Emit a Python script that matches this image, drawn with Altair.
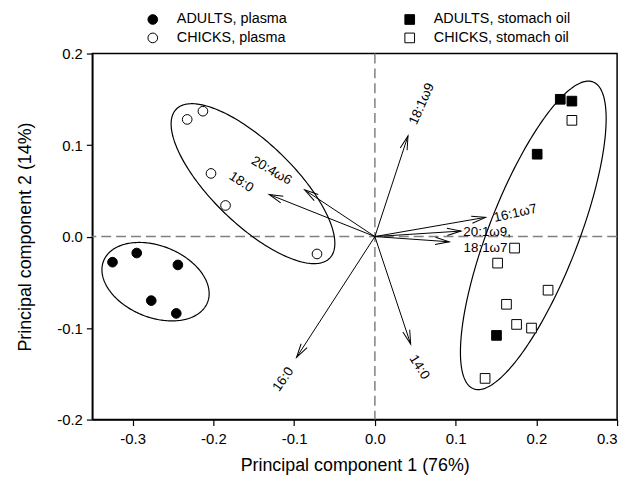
import numpy as np
import pandas as pd
import altair as alt

# ---------------- data ----------------
groups = ["ADULTS, plasma", "CHICKS, plasma", "ADULTS, stomach oil", "CHICKS, stomach oil"]

adult_plasma_pc1 = [-0.325, -0.295, -0.244, -0.277, -0.246]
adult_plasma_pc2 = [-0.028, -0.018, -0.031, -0.070, -0.084]
chick_plasma_pc1 = [-0.2325, -0.213, -0.203, -0.185, -0.0717]
chick_plasma_pc2 = [0.128, 0.137, 0.069, 0.034, -0.019]
adult_oil_pc1 = [0.2296, 0.244, 0.201, 0.1506]
adult_oil_pc2 = [0.150, 0.148, 0.090, -0.108]
chick_oil_pc1 = [0.244, 0.173, 0.152, 0.2145, 0.163, 0.1755, 0.194, 0.1365]
chick_oil_pc2 = [0.127, -0.0126, -0.029, -0.0586, -0.074, -0.096, -0.100, -0.155]

loading_names = ["18:1ω9", "20:4ω6", "18:0", "16:1ω7", "20:1ω9,", "18:1ω7", "16:0", "14:0"]
loading_pc1 = [0.041, -0.087, -0.131, 0.137, 0.1066, 0.092, -0.097, 0.0443]
loading_pc2 = [0.110, 0.051, 0.046, 0.021, 0.006, -0.0057, -0.132, -0.1175]

label_pc1 = [0.058, -0.128, -0.1655, 0.174, 0.139, 0.137, -0.1135, 0.055]
label_pc2 = [0.145, 0.072, 0.0596, 0.0254, 0.0054, -0.0122, -0.156, -0.1427]
label_angle = [294, 30, 33, 347, 0, 0, 305, 58]

# confidence ellipses: centre (data units), semi-axes (px), tilt (deg, screen)
ell_names = ["adult plasma", "chick plasma", "stomach oil"]
ell_cx = [-0.2717, -0.151, 0.1962]
ell_cy = [-0.0493, 0.0578, 0.0013]
ell_a = [56.4, 107.8, 166.0]
ell_b = [36.1, 41.1, 45.0]
ell_tilt = [21.9, 44.1, -68.7]

x_ticks = [-0.3, -0.2, -0.1, 0.0, 0.1, 0.2, 0.3]
y_ticks = [-0.2, -0.1, 0.0, 0.1, 0.2]

# ---------------- layout ----------------
W, H = 529, 369
XDOM = [-0.35, 0.3]
YDOM = [-0.2, 0.2]
PX_X = W / (XDOM[1] - XDOM[0])
PX_Y = H / (YDOM[1] - YDOM[0])
FONT = "Liberation Sans"

pts = pd.DataFrame({
    "pc1": adult_plasma_pc1 + chick_plasma_pc1 + adult_oil_pc1 + chick_oil_pc1,
    "pc2": adult_plasma_pc2 + chick_plasma_pc2 + adult_oil_pc2 + chick_oil_pc2,
    "group": [groups[0]] * len(adult_plasma_pc1) + [groups[1]] * len(chick_plasma_pc1)
    + [groups[2]] * len(adult_oil_pc1) + [groups[3]] * len(chick_oil_pc1),
})

load = pd.DataFrame({"name": loading_names, "x": loading_pc1, "y": loading_pc2})
load["x0"] = 0.0
load["y0"] = 0.0
load["head_angle"] = (np.degrees(np.arctan2(-load["y"] * PX_Y, load["x"] * PX_X)) + 360) % 360

labels = pd.DataFrame({"name": loading_names, "x": label_pc1, "y": label_pc2, "angle": label_angle})

rows = []
t = np.linspace(0, 2 * np.pi, 241)
for n, cx, cy, a, b, th in zip(ell_names, ell_cx, ell_cy, ell_a, ell_b, ell_tilt):
    r = np.radians(th)
    u, v = a * np.cos(t), b * np.sin(t)
    dx = u * np.cos(r) - v * np.sin(r)
    dy = u * np.sin(r) + v * np.cos(r)
    for i in range(len(t)):
        rows.append({"ell": n, "i": i, "x": cx + dx[i] / PX_X, "y": cy - dy[i] / PX_Y})
ell = pd.DataFrame(rows)

zero = pd.DataFrame({"z": [0.0]})

label_expr = "(datum.value < -0.00001 ? '-' : '') + format(abs(datum.value), '.1f')"
x_axis = alt.Axis(values=x_ticks, labelExpr=label_expr, grid=False, tickSize=6,
                  labelFontSize=15, titleFontSize=18, labelPadding=6, titlePadding=10)
y_axis = alt.Axis(values=y_ticks, labelExpr=label_expr, grid=False, tickSize=6,
                  labelFontSize=15, titleFontSize=18, labelPadding=4, titlePadding=22)
xs = alt.Scale(domain=XDOM, nice=False, zero=False)
ys = alt.Scale(domain=YDOM, nice=False, zero=False)
XT = "Principal component 1 (76%)"
YT = "Principal component 2 (14%)"


def X(f):
    return alt.X(f, type="quantitative", scale=xs, axis=x_axis, title=XT)


def Y(f):
    return alt.Y(f, type="quantitative", scale=ys, axis=y_axis, title=YT)


vline = alt.Chart(zero).mark_rule(color="#808080", strokeDash=[10, 5], strokeWidth=1.5).encode(x=X("z"))
hline = alt.Chart(zero).mark_rule(color="#808080", strokeDash=[10, 5], strokeWidth=1.5).encode(y=Y("z"))

ellipses = alt.Chart(ell).mark_line(color="black", strokeWidth=1.2).encode(
    x=X("x"), y=Y("y"), detail="ell:N", order=alt.Order("i:Q"))

shafts = alt.Chart(load).mark_rule(color="black", strokeWidth=1).encode(
    x=X("x0"), y=Y("y0"), x2="x", y2="y")

heads = alt.Chart(load).mark_point(shape="M-1,-0.26L0,0L-1,0.26", size=784, filled=False,
                                   stroke="black", strokeWidth=1, opacity=1).encode(
    x=X("x"), y=Y("y"), angle=alt.Angle("head_angle:Q", scale=None))

texts = alt.Chart(labels).mark_text(font=FONT, fontSize=13.5, color="black", align="center",
                                    baseline="middle").encode(
    x=X("x"), y=Y("y"), text="name:N", angle=alt.Angle("angle:Q", scale=None))

legend = alt.Legend(orient="none", legendX=53.7, legendY=-42, columns=2, columnPadding=116,
                    rowPadding=3, labelFontSize=14.5, labelOffset=17, symbolSize=95,
                    symbolStrokeColor="black", symbolStrokeWidth=1, labelFont=FONT, padding=0)

points = alt.Chart(pts).mark_point(size=95, strokeWidth=1, opacity=1).encode(
    x=X("pc1"), y=Y("pc2"),
    shape=alt.Shape("group:N", scale=alt.Scale(domain=groups, range=["circle", "circle", "square", "square"]),
                    legend=legend, title=None),
    fill=alt.Fill("group:N", scale=alt.Scale(domain=groups, range=["black", "white", "black", "white"]),
                  legend=legend, title=None),
    stroke=alt.Stroke("group:N", scale=alt.Scale(domain=groups, range=["black", "black", "black", "black"]),
                      legend=legend, title=None),
)

chart = alt.layer(vline, hline, ellipses, shafts, heads, texts, points).properties(
    width=W, height=H, autosize=alt.AutoSizeParams(type="none"),
    padding={"left": 85, "top": 44, "right": 12, "bottom": 60},
).configure_view(stroke="black", strokeWidth=1.5).configure_axis(
    labelFont=FONT, titleFont=FONT, titleFontWeight="normal", labelColor="black", titleColor="black",
    domainColor="black", tickColor="black", domainWidth=1.5, tickWidth=1.2,
).configure_text(font=FONT)

chart.save("out.html", embed_options={"renderer": "svg", "actions": False})
